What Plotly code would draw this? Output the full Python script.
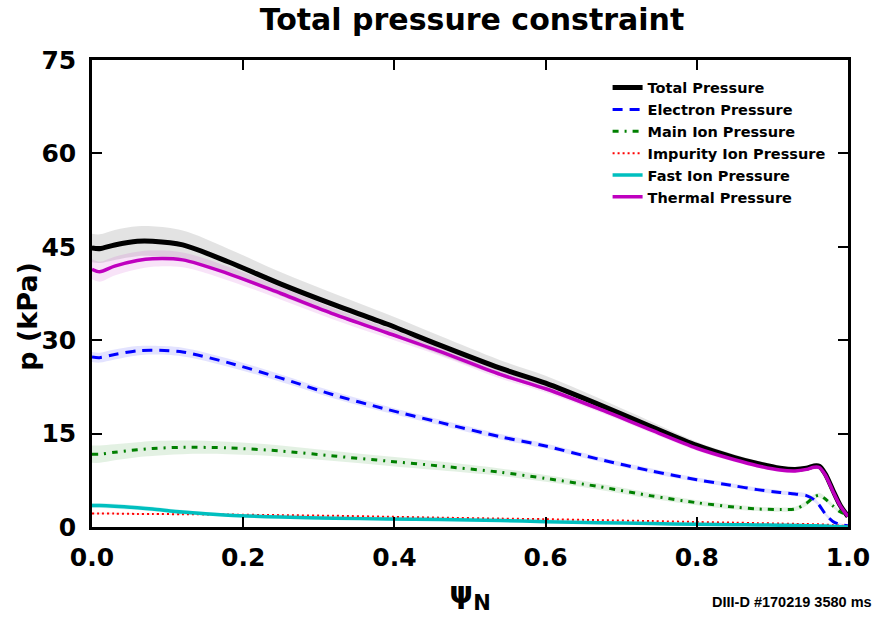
import plotly.graph_objects as go

# Normalized poloidal flux grid
psi = [0.0, 0.01, 0.03, 0.06, 0.08, 0.12, 0.18, 0.25, 0.32, 0.39, 0.46, 0.54, 0.60,
       0.67, 0.74, 0.80, 0.85, 0.88, 0.91, 0.93, 0.945, 0.955, 0.962, 0.97, 0.98, 0.99, 1.0]

# Pressure profiles (kPa)
total = [44.8, 44.7, 45.3, 45.9, 45.9, 45.3, 42.6, 39.0, 35.7, 32.6, 29.2, 25.5, 23.1,
         19.7, 16.1, 13.1, 11.15, 10.2, 9.45, 9.25, 9.45, 9.8, 9.75, 8.5, 5.9, 3.4, 1.7]
electron = [27.3, 27.2, 27.7, 28.3, 28.4, 28.1, 26.4, 23.9, 21.2, 18.9, 16.8, 14.5, 13.0,
            10.9, 9.0, 7.6, 6.6, 6.0, 5.55, 5.3, 5.05, 4.4, 3.5, 2.1, 0.9, 0.4, 0.2]
main_ion = [11.7, 11.7, 12.0, 12.4, 12.6, 12.8, 12.7, 12.2, 11.4, 10.6, 9.8, 8.8, 7.8,
            6.5, 5.0, 3.9, 3.2, 2.9, 2.8, 2.9, 3.8, 4.8, 5.1, 4.5, 3.4, 2.4, 2.0]
impurity = [2.15, 2.15, 2.15, 2.1, 2.1, 2.05, 2.0, 1.9, 1.8, 1.65, 1.5, 1.35, 1.25,
            1.1, 0.95, 0.8, 0.7, 0.62, 0.55, 0.5, 0.48, 0.45, 0.42, 0.38, 0.3, 0.22, 0.15]
fast_ion = [3.45, 3.45, 3.35, 3.1, 2.9, 2.4, 1.9, 1.6, 1.4, 1.3, 1.2, 1.05, 0.85,
            0.7, 0.55, 0.45, 0.38, 0.33, 0.28, 0.25, 0.22, 0.2, 0.18, 0.15, 0.1, 0.05, 0.02]
thermal = [41.4, 41.0, 41.9, 42.8, 43.1, 42.9, 40.7, 37.5, 34.2, 31.2, 28.2, 24.5, 22.2,
           19.0, 15.55, 12.65, 10.8, 9.85, 9.15, 9.0, 9.25, 9.6, 9.55, 8.35, 5.75, 3.35, 1.7]

# One-sigma uncertainties (kPa)
total_err = [2.3, 2.3, 2.4, 2.4, 2.4, 2.3, 2.1, 1.9, 1.8, 1.6, 1.5, 1.3, 1.2,
             1.0, 0.8, 0.6, 0.5, 0.45, 0.4, 0.4, 0.4, 0.4, 0.4, 0.35, 0.3, 0.25, 0.2]
electron_err = [0.8, 0.8, 0.8, 0.75, 0.7, 0.7, 0.65, 0.6, 0.55, 0.5, 0.45, 0.45, 0.4,
                0.4, 0.4, 0.35, 0.35, 0.35, 0.35, 0.35, 0.35, 0.35, 0.35, 0.3, 0.25, 0.2, 0.15]
main_ion_err = [1.4, 1.4, 1.3, 1.2, 1.2, 1.1, 1.0, 0.9, 0.8, 0.75, 0.7, 0.6, 0.55,
                0.5, 0.45, 0.4, 0.4, 0.35, 0.35, 0.35, 0.4, 0.4, 0.4, 0.35, 0.3, 0.25, 0.2]
impurity_err = [0.12, 0.12, 0.12, 0.12, 0.12, 0.12, 0.1, 0.1, 0.1, 0.1, 0.1, 0.08, 0.08,
                0.08, 0.07, 0.06, 0.06, 0.05, 0.05, 0.05, 0.05, 0.05, 0.05, 0.04, 0.04, 0.03, 0.03]
fast_ion_err = [0.4, 0.4, 0.4, 0.38, 0.36, 0.32, 0.28, 0.25, 0.22, 0.2, 0.18, 0.16, 0.15,
                0.13, 0.12, 0.1, 0.1, 0.09, 0.08, 0.08, 0.08, 0.07, 0.07, 0.06, 0.05, 0.04, 0.03]
thermal_err = [1.6, 1.6, 1.5, 1.4, 1.3, 1.2, 1.1, 1.0, 0.9, 0.8, 0.7, 0.65, 0.6,
               0.5, 0.45, 0.4, 0.35, 0.3, 0.3, 0.3, 0.3, 0.3, 0.3, 0.25, 0.2, 0.15, 0.1]

x_ticks = [0.0, 0.2, 0.4, 0.6, 0.8, 1.0]
x_tick_labels = ["0.0", "0.2", "0.4", "0.6", "0.8", "1.0"]
y_ticks = [0, 15, 30, 45, 60, 75]

FONT = "DejaVu Sans"

series = [
    # name, values, errors, line colour, band colour, width, dash
    ("Total Pressure", total, total_err, "#000000", "rgba(0,0,0,0.11)", 5, "solid"),
    ("Electron Pressure", electron, electron_err, "#0000ff", "rgba(0,0,255,0.11)", 3, "10px,7px"),
    ("Main Ion Pressure", main_ion, main_ion_err, "#008000", "rgba(0,128,0,0.11)", 3, "6px,6px,2px,6px"),
    ("Impurity Ion Pressure", impurity, impurity_err, "#ff0000", "rgba(255,0,0,0.10)", 2, "2px,3px"),
    ("Fast Ion Pressure", fast_ion, fast_ion_err, "#00bfbf", "rgba(0,191,191,0.15)", 3.5, "solid"),
    ("Thermal Pressure", thermal, thermal_err, "#bf00bf", "rgba(191,0,191,0.11)", 3.5, "solid"),
]

fig = go.Figure()

# Uncertainty bands first so the profiles sit on top
for name, vals, errs, col, band, w, dash in series:
    lo = [v - e for v, e in zip(vals, errs)]
    hi = [v + e for v, e in zip(vals, errs)]
    fig.add_trace(go.Scatter(x=psi, y=lo, mode="lines", line=dict(width=0, shape="spline"),
                             showlegend=False, hoverinfo="skip"))
    fig.add_trace(go.Scatter(x=psi, y=hi, mode="lines", line=dict(width=0, shape="spline"),
                             fill="tonexty", fillcolor=band, showlegend=False, hoverinfo="skip"))

for name, vals, errs, col, band, w, dash in series:
    fig.add_trace(go.Scatter(x=psi, y=vals, mode="lines", name=name,
                             line=dict(color=col, width=w, dash=dash, shape="spline", smoothing=0.8)))

axis_common = dict(
    showline=True, linewidth=2.5, linecolor="black", mirror="ticks",
    ticks="inside", ticklen=10, tickwidth=2, tickcolor="black",
    showgrid=False, zeroline=False,
    tickfont=dict(family=FONT, size=25, color="black", weight="bold"),
)

fig.update_layout(
    width=882, height=617,
    margin=dict(l=92, r=30, t=60, b=87),
    paper_bgcolor="white", plot_bgcolor="white",
    font=dict(family=FONT, color="black", weight="bold"),
    title=dict(text="Total pressure constraint", x=(92 + 852) / 2 / 882, xanchor="center",
               y=1 - 19 / 617, yanchor="middle",
               font=dict(family=FONT, size=30, color="black", weight="bold")),
    xaxis=dict(range=[0, 1], tickvals=x_ticks, ticktext=x_tick_labels, ticklabelstandoff=6,
               title=dict(text="ψ<sub>N</sub>", standoff=12,
                          font=dict(family=FONT, size=30, color="black", weight="bold")),
               **axis_common),
    yaxis=dict(range=[0, 75], tickvals=y_ticks, ticklabelstandoff=8, **axis_common),
    legend=dict(x=0.682, y=0.975, xanchor="left", yanchor="top", bgcolor="rgba(0,0,0,0)",
                borderwidth=0, tracegroupgap=0, traceorder="normal",
                font=dict(family=FONT, size=14.5, color="black", weight="bold")),
    annotations=[
        dict(text="p (kPa)", textangle=-90, xref="paper", yref="paper",
             x=(27 - 92) / 760, y=(530 - 318) / 470, xanchor="center", yanchor="middle",
             showarrow=False, font=dict(family=FONT, size=27, color="black", weight="bold")),
        dict(text="DIII-D #170219 3580 ms", xref="paper", yref="paper",
             x=(878 - 92) / 760, y=(530 - 605) / 470, xanchor="right", yanchor="middle",
             showarrow=False,
             font=dict(family="Liberation Sans", size=14.5, color="black", weight="bold")),
    ],
)

fig.write_html("out.html")
